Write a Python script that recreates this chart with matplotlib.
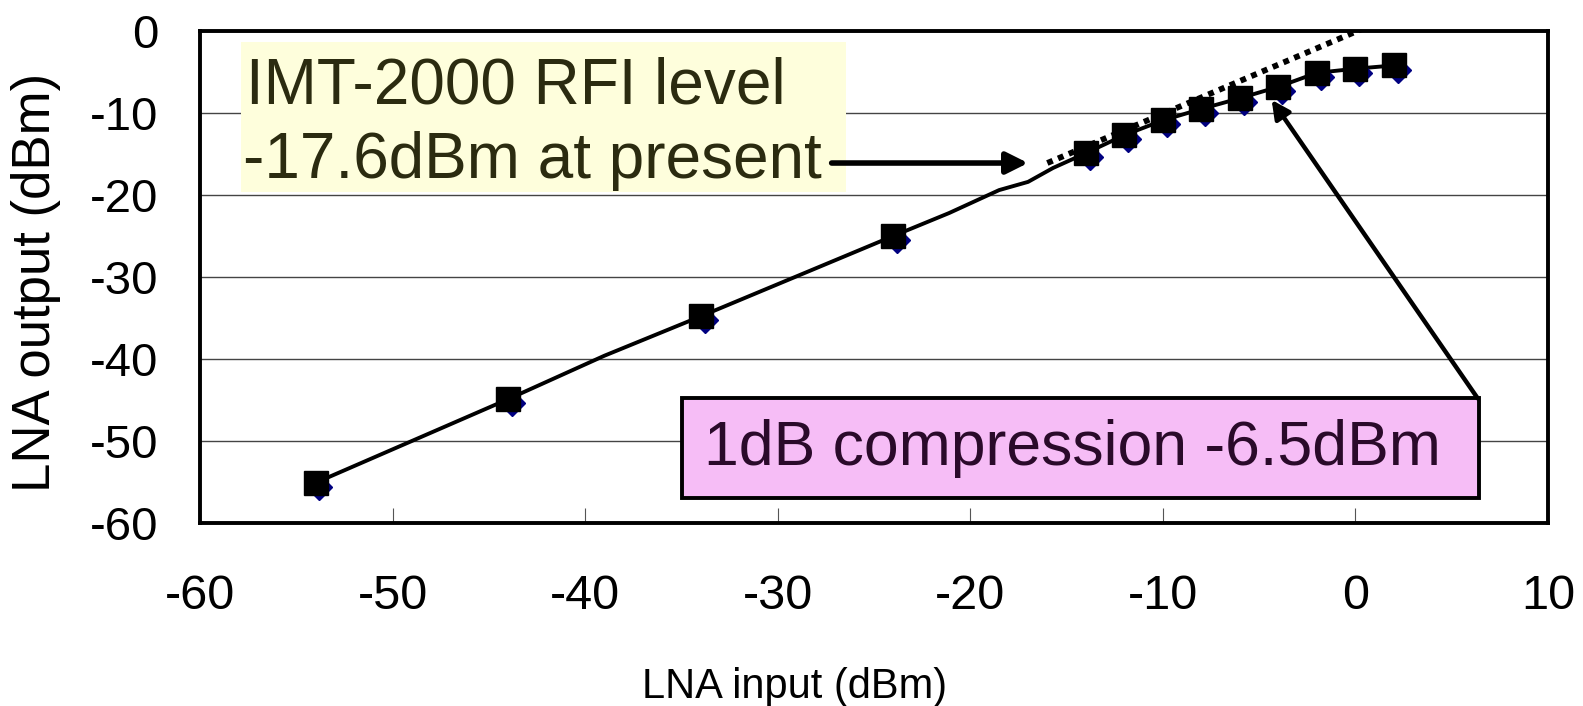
import matplotlib.pyplot as plt
from matplotlib.patches import Rectangle

plt.rcParams['font.family'] = ['Liberation Sans', 'DejaVu Sans']
plt.rcParams['axes.unicode_minus'] = False

# measured points (black squares)
lna_in = [-54, -44, -34, -24, -14, -12, -10, -8, -6, -4, -2, 0, 2]
lna_out = [-55.1, -44.9, -34.8, -25.0, -14.9, -12.7, -10.9, -9.5, -8.2, -6.8, -5.1, -4.6, -4.2]

# second measured series (blue diamonds, mostly hidden)
lna_in_b = [-53.8, -43.8, -33.8, -23.8, -13.8, -11.8, -9.8, -7.8, -5.8, -3.8, -1.8, 0.2, 2.2]
lna_out_b = [-55.6, -45.4, -35.3, -25.5, -15.4, -13.2, -11.4, -10.0, -8.7, -7.3, -5.6, -5.1, -4.7]

# solid curve
curve_in = [-54, -44, -39, -34, -29, -24, -21.1, -18.5, -17.0, -15.7, -14, -12, -10,
            -8, -6, -4, -2, 0, 2]
curve_out = [-55.1, -44.9, -39.6, -34.8, -29.9, -25.0, -22.2, -19.4, -18.4, -16.7,
             -14.9, -12.7, -10.9, -9.5, -8.2, -6.8, -5.1, -4.6, -4.2]

# ideal linear gain line
lin_in = [-16.0, 0.5]
lin_out = [-16.1, 0.4]

xticks = [-60, -50, -40, -30, -20, -10, 0, 10]
yticks = [0, -10, -20, -30, -40, -50, -60]

fig = plt.figure(figsize=(15.83, 7.06), dpi=100)
ax = fig.add_axes([200 / 1583, 1 - 523 / 706, 1348 / 1583, 492 / 706])

ax.set_xlim(-60, 10)
ax.set_ylim(-60, 0)
ax.set_xticks(xticks)
ax.set_yticks(yticks)
ax.tick_params(axis='x', direction='in', length=11, width=0.8, color='#555555',
               labelsize=35, pad=37)
ax.tick_params(axis='y', length=0, labelsize=34, pad=30)
ax.yaxis.grid(True, color='#444444', lw=1)
ax.set_axisbelow(True)
for s in ax.spines.values():
    s.set_linewidth(2.8)

ax.plot(curve_in, curve_out, color='black', lw=2.8, zorder=3)
ax.plot(lna_in_b, lna_out_b, ls='none', marker='D', ms=13, color='#000080', zorder=4)
ax.plot(lna_in, lna_out, ls='none', marker='s', ms=17, color='black', zorder=5)
ax.plot(lin_in, lin_out, color='black', lw=4.2, ls=(0, (1, 1)), zorder=6)

# IMT-2000 label
ax.add_patch(Rectangle((-57.85, -19.6), 31.4, 18.2, facecolor='#fefedc',
                       edgecolor='none', zorder=2))
ax.text(-57.6, -8.8, 'IMT-2000 RFI level', fontsize=46, color='#2b2b10',
        va='baseline', zorder=7)
ax.text(-57.75, -17.9, '-17.6dBm at present', fontsize=46, color='#2b2b10',
        va='baseline', zorder=7)
ax.annotate('', xy=(-17.0, -16.1), xytext=(-27.2, -16.1),
            arrowprops=dict(arrowstyle='-|>,head_length=1.3,head_width=0.65',
                            color='black', lw=4, shrinkA=0, shrinkB=0), zorder=7)

# 1dB compression label
ax.add_patch(Rectangle((-34.95, -56.95), 41.35, 12.2, facecolor='#f6bdf6',
                       edgecolor='black', lw=2.8, zorder=7))
ax.text(-14.7, -52.9, '1dB compression -6.5dBm', fontsize=45, color='#2a0a2a',
        ha='center', va='baseline', zorder=8)
ax.annotate('', xy=(-4.35, -8.4), xytext=(6.35, -44.8),
            arrowprops=dict(arrowstyle='-|>,head_length=1.1,head_width=0.55',
                            color='black', lw=3.2, shrinkA=0, shrinkB=0), zorder=8)

fig.text(795 / 1583, 8 / 706, 'LNA input (dBm)', fontsize=30, ha='center', va='baseline')
fig.text(36 / 1583, 1 - 282 / 706, 'LNA output (dBm)', fontsize=38, rotation=90,
         ha='center', va='center')

fig.savefig('out.png', dpi=100)
